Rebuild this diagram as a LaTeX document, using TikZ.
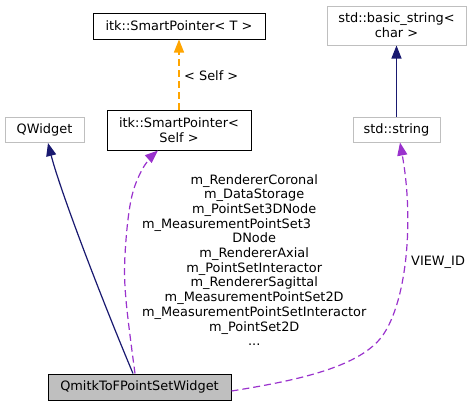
\documentclass[tikz,border=0pt]{standalone}
\usepackage{fontspec}
\setmainfont{DejaVu Sans}
\usetikzlibrary{arrows.meta}
\definecolor{navy}{HTML}{191970}
\definecolor{orchid}{HTML}{9A32CD}
\definecolor{orng}{HTML}{FFA500}
\definecolor{lgray}{HTML}{BFBFBF}
\begin{document}
\begin{tikzpicture}[x=1pt,y=-1pt,
  every node/.style={font=\fontsize{12.9}{14.7}\selectfont, inner sep=0pt, align=center},
  blackbox/.style={draw=black, line width=1pt, fill=white},
  graybox/.style={draw=lgray, line width=1pt, fill=white},
  mainbox/.style={draw=black, line width=1pt, fill=lgray},
  tip/.style={-{Triangle[length=13pt,width=10pt]}},
  inh/.style={tip, draw=navy, line width=1.2pt},
  use/.style={tip, draw=orchid, line width=1.2pt, dash pattern=on 7pt off 4pt},
  tmpl/.style={tip, draw=orng, line width=1.2pt, dash pattern=on 7pt off 4pt},
  lbl/.style={font=\fontsize{12.9}{14.7}\selectfont}]
\useasboundingbox (0,0) rectangle (473,407);
% nodes
\node[blackbox, minimum width=172pt, minimum height=26pt] (spT) at (179,26) {itk::SmartPointer< T >};
\node[graybox, minimum width=139pt, minimum height=39pt] (bstr) at (396.5,25.5) {std::basic\_string<\\char >};
\node[graybox, minimum width=79pt, minimum height=25pt] (qw) at (44.5,130) {QWidget};
\node[blackbox, minimum width=144pt, minimum height=40pt] (spS) at (179,130) {itk::SmartPointer<\\Self >};
\node[graybox, minimum width=87pt, minimum height=25pt] (str) at (396.5,129.5) {std::string};
\node[mainbox, minimum width=183pt, minimum height=26pt] (main) at (139.5,387) {QmitkToFPointSetWidget};
% edges
\draw[inh] ([xshift=-6.5pt]main.north) .. controls (100,295) and (60,190) .. ([xshift=3.5pt]qw.south);
\draw[use] plot[smooth, tension=0.6] coordinates {([xshift=-4.5pt]main.north) (126,300) (125,255) (131,200) (143,168) ([xshift=-21pt]spS.south)};
\draw[tmpl] (spS.north) -- (spT.south);
\draw[inh] (str.north) -- (bstr.south);
\draw[use] ([yshift=-4pt]main.east) .. controls (300,380) and (361,366.5) .. (383,335)
  .. controls (407,300) and (414,220) .. ([xshift=3.5pt]str.south);
% labels
\node[lbl, anchor=west] (selfl) at (184,76) {< Self >};
\node[lbl, anchor=west] (viewid) at (411,262) {VIEW\_ID};
\node[lbl] (members) at (254.2,262) {\def\arraystretch{1}\begin{tabular}{@{}c@{}}
m\_RendererCoronal\\
m\_DataStorage\\
m\_PointSet3DNode\\
\multicolumn{1}{@{}l@{}}{m\_MeasurementPointSet3}\\
DNode\\
m\_RendererAxial\\
m\_PointSetInteractor\\
m\_RendererSagittal\\
m\_MeasurementPointSet2D\\
m\_MeasurementPointSetInteractor\\
m\_PointSet2D\\
...
\end{tabular}};
\end{tikzpicture}
\end{document}
